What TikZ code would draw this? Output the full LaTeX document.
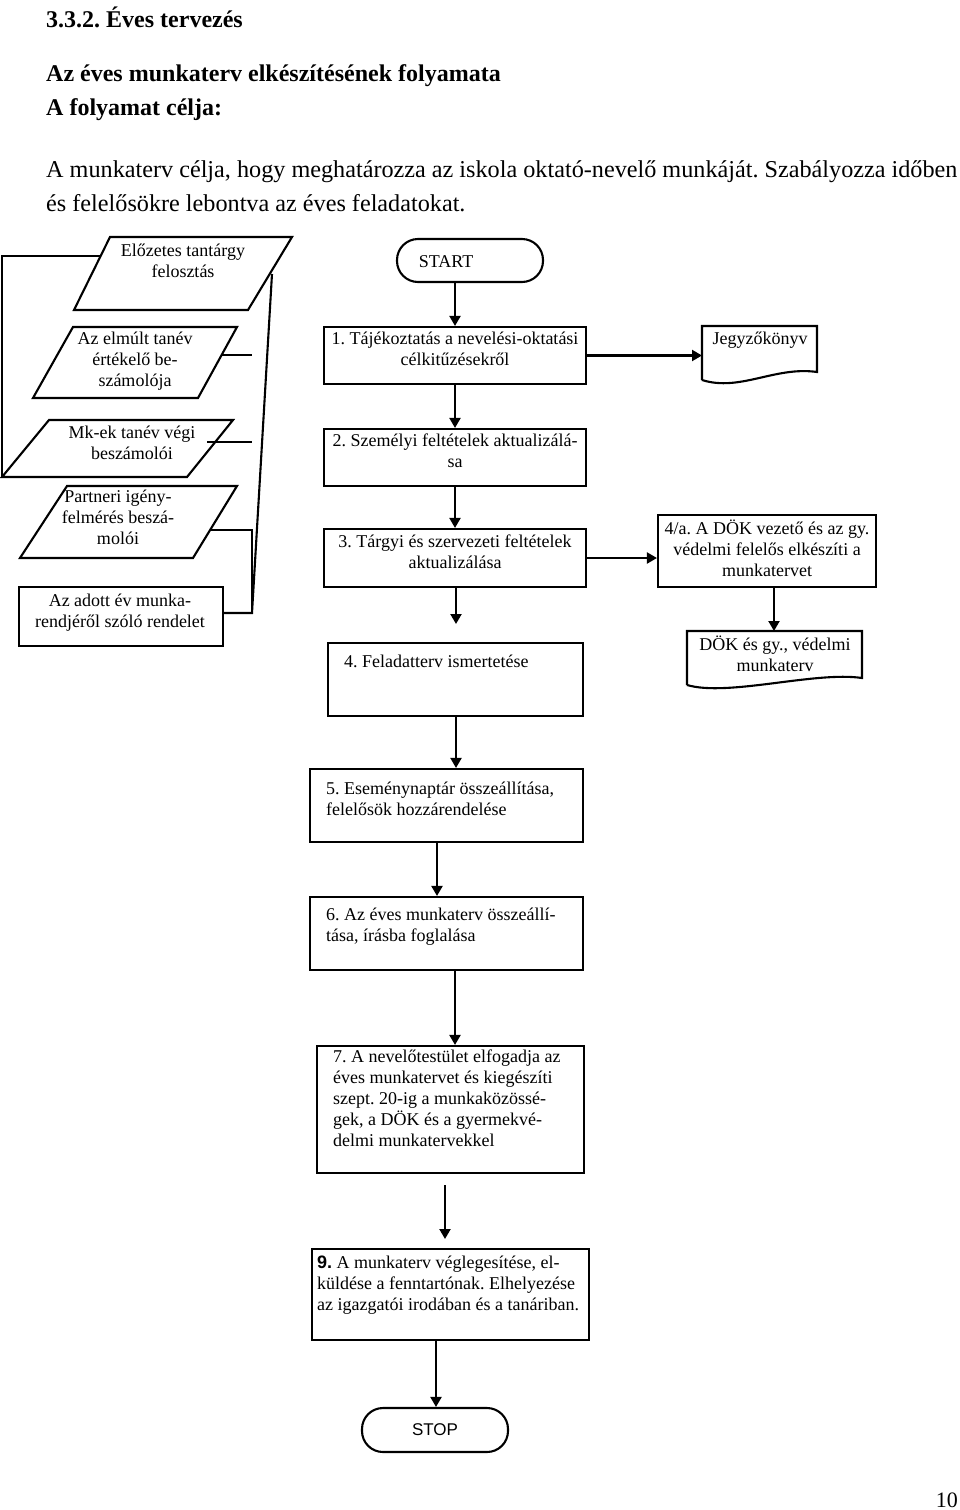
\documentclass[tikz,border=0pt]{standalone}
\usepackage{fontspec}
\setmainfont{Liberation Serif}
\newfontfamily\arialfont{Liberation Sans}
\usetikzlibrary{arrows.meta}
\begin{document}
\frenchspacing
\begin{tikzpicture}[x=1pt,y=-1pt,
  ln/.style={line width=2.1pt},
  box/.style={draw, line width=2.1pt, inner sep=0pt},
  term/.style={draw, line width=2.1pt, inner sep=0pt, rounded corners=21pt},
  txt/.style={font=\fontsize{18}{21}\selectfont, inner sep=0pt, align=center, anchor=north},
  ltxt/.style={font=\fontsize{18}{21}\selectfont, inner sep=0pt, align=left, anchor=north west},
  head/.style={font=\fontsize{24}{28}\selectfont\bfseries, inner sep=0pt, anchor=base west},
  body/.style={font=\fontsize{24.2}{28}\selectfont, inner sep=0pt, anchor=base west},
  arr/.style={-{Triangle[width=11pt,length=10pt]}, line width=2.1pt}]
\useasboundingbox (0,0) rectangle (960,1510);

% headings
\node[head] (h1) at (46,27) {3.3.2. Éves tervezés};
\node[head] (h2) at (46,81) {Az éves munkaterv elkészítésének folyamata};
\node[head] (h3) at (46,115) {A folyamat célja:};
\node[body] (p1) at (46,177) {A munkaterv célja, hogy meghatározza az iskola oktató-nevelő munkáját. Szabályozza időben};
\node[body] (p2) at (46,211) {és felelősökre lebontva az éves feladatokat.};

% left input parallelograms
\draw[ln] (110,237) -- (292,237) -- (248,310) -- (74,310) -- cycle;
\node[txt] (tpe) at (183,244) {Előzetes tantárgy\\felosztás};
\draw[ln] (73,327) -- (237,327) -- (198,398) -- (33,398) -- cycle;
\node[txt] (tel) at (135,332) {Az elmúlt tanév\\értékelő be-\\számolója};
\draw[ln] (49,420) -- (233,420) -- (187,477) -- (2,477) -- cycle;
\node[txt] (tmk) at (132,426) {Mk-ek tanév végi\\beszámolói};
\draw[ln] (67,486) -- (237,486) -- (193,558) -- (20,558) -- cycle;
\node[txt] (tpa) at (118,490) {Partneri igény-\\felmérés beszá-\\molói};
\node[box, minimum width=204pt, minimum height=59pt] (rend) at (121,616.5) {};
\node[txt] (tre) at (120,594) {Az adott év munka-\\rendjéről szóló rendelet};

% left connecting lines
\coordinate (pe1) at (101,256);
\coordinate (lc) at (2,256);
\coordinate (mkbl) at (2,477);
\draw[ln] (pe1) -- (lc) -- (mkbl);
\coordinate (rtop) at (272,274);
\coordinate (rbot) at (252,613);
\draw[ln] (rtop) -- (rbot) -- (rend.east |- rbot);
\draw[ln] (222,355) -- (252,355);
\draw[ln] (207,442) -- (252,442);
\draw[ln] (211,530) -- (252,530) -- (rbot);

% main column
\node[term, minimum width=146pt, minimum height=43pt] (start) at (470,260.5) {};
\node[font=\fontsize{18}{21}\selectfont, inner sep=0pt] (tst) at (446,262) {START};
\node[box, minimum width=262pt, minimum height=57pt] (b1) at (455,355.5) {};
\node[txt] (t1) at (455,332) {1. Tájékoztatás a nevelési-oktatási\\célkitűzésekről};
\node[box, minimum width=262pt, minimum height=57pt] (b2) at (455,457.5) {};
\node[txt] (t2) at (455,434) {2. Személyi feltételek aktualizálá-\\sa};
\node[box, minimum width=262pt, minimum height=58pt] (b3) at (455,558) {};
\node[txt] (t3) at (455,535) {3. Tárgyi és szervezeti feltételek\\aktualizálása};
\node[box, minimum width=255pt, minimum height=73pt] (b4) at (455.5,679.5) {};
\node[ltxt] (t4) at (344,655) {4. Feladatterv ismertetése};
\node[box, minimum width=273pt, minimum height=73pt] (b5) at (446.5,805.5) {};
\node[ltxt] (t5) at (326,782) {5. Eseménynaptár összeállítása,\\felelősök hozzárendelése};
\node[box, minimum width=273pt, minimum height=73pt] (b6) at (446.5,933.5) {};
\node[ltxt] (t6) at (326,908) {6. Az éves munkaterv összeállí-\\tása, írásba foglalása};
\node[box, minimum width=267pt, minimum height=127pt] (b7) at (450.5,1109.5) {};
\node[ltxt] (t7) at (333,1050) {7. A nevelőtestület elfogadja az\\éves munkatervet és kiegészíti\\szept. 20-ig a munkaközössé-\\gek, a DÖK és a gyermekvé-\\delmi munkatervekkel};
\node[box, minimum width=277pt, minimum height=91pt] (b9) at (450.5,1294.5) {};
\node[ltxt] (t9) at (317,1256) {{\arialfont\bfseries 9.} A munkaterv véglegesítése, el-\\küldése a fenntartónak. Elhelyezése\\az igazgatói irodában és a tanáriban.};
\node[term, minimum width=146pt, minimum height=44pt] (stop) at (435,1430) {};
\node[font=\arialfont\fontsize{17}{20}\selectfont, inner sep=0pt] (tsp) at (435,1430) {STOP};

% right column
\draw[ln] (702,380) -- (702,326) -- (817,326) -- (817,372) .. controls (775,366) and (740,392) .. (702,380);
\node[txt] (tjk) at (760,332) {Jegyzőkönyv};
\coordinate (jk) at (702,355.5);
\node[box, minimum width=218pt, minimum height=72pt] (b4a) at (767,551) {};
\node[txt] (t4a) at (767,520) {4/a. A DÖK vezető és az gy.\\védelmi felelős elkészíti a\\munkatervet};
\draw[ln] (687,685) -- (687,631) -- (862,631) -- (862,678) .. controls (815,671) and (728,697) .. (687,685);
\node[txt] (tdk) at (775,636) {DÖK és gy., védelmi\\munkaterv};
\coordinate (dk) at (774,631);

% connectors
\coordinate (c455) at (455,0);
\coordinate (c456) at (456,0);
\coordinate (c437) at (437,0);
\coordinate (c436) at (436,0);
\draw[arr] (start.south -| c455) -- (b1.north -| c455);
\draw[arr] (b1.south -| c455) -- (b2.north -| c455);
\draw[arr] (b2.south -| c455) -- (b3.north -| c455);
\coordinate (e3) at (456,624);
\draw[arr] (b3.south -| e3) -- (e3);
\draw[arr] (b4.south -| c456) -- (b5.north -| c456);
\draw[arr] (b5.south -| c437) -- (b6.north -| c437);
\draw[arr] (b6.south -| c455) -- (b7.north -| c455);
\coordinate (f1) at (445,1185);
\coordinate (f2) at (445,1239);
\draw[arr] (f1) -- (f2);
\draw[arr] (b9.south -| c436) -- (stop.north -| c436);
\draw[arr] (b1.east) -- (jk);
\draw[arr] (b3.east) -- (b3.east -| b4a.west);
\draw[arr] (b4a.south -| dk) -- (dk);

\node[font=\fontsize{22}{26}\selectfont, inner sep=0pt, anchor=base east] (pg) at (958,1507) {10};
\end{tikzpicture}
\end{document}
